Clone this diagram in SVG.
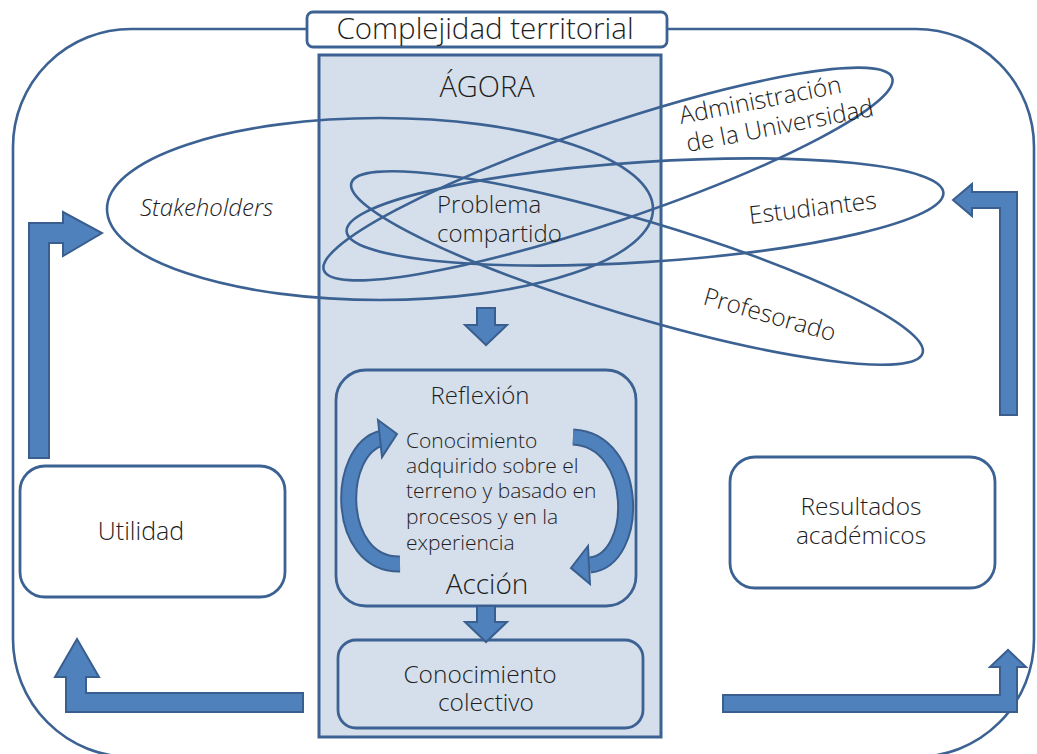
<svg xmlns="http://www.w3.org/2000/svg" width="1037" height="754" viewBox="0 0 1037 754">
<defs>
<style>
.ln{fill:none;stroke:#3c6293;stroke-width:2.6}
.box{fill:#ffffff;stroke:#3c6293;stroke-width:2.8}
.agora{fill:#d5dfeb;stroke:#3c6293;stroke-width:3}
.inner{fill:#d5dfeb;stroke:#3c6293;stroke-width:2.8}
.barr{fill:#4f81bd;stroke:#3a5f8e;stroke-width:2}
.t{font-family:"Open Sans","Liberation Sans",sans-serif;font-weight:300;fill:#1e1e1e}
.c{text-anchor:middle}
</style>
</defs>
<rect width="1037" height="754" fill="#ffffff"/>
<g id="frame">
<rect class="ln" x="13" y="29" width="1021" height="728" rx="118" ry="118"/>
</g>
<g id="title">
<rect class="box" x="307" y="12" width="360" height="35" rx="6"/>
<text class="t c" x="485" y="39" font-size="29.5">Complejidad territorial</text>
</g>
<g id="agora">
<rect class="agora" x="319" y="55" width="342" height="682"/>
<text class="t c" x="487" y="97" font-size="29">ÁGORA</text>
</g>
<g id="reflexion">
<rect class="inner" x="336" y="370" width="300" height="236" rx="30"/>
<text class="t c" x="480" y="404" font-size="24">Reflexión</text>
<text class="t" x="406" font-size="21"><tspan x="406" y="448">Conocimiento</tspan><tspan x="406" y="473">adquirido sobre el</tspan><tspan x="406" y="498">terreno y basado en</tspan><tspan x="406" y="524">procesos y en la</tspan><tspan x="406" y="550">experiencia</tspan></text>
<text class="t c" x="487" y="594" font-size="28">Acción</text>
</g>
<g id="colectivo">
<rect class="inner" x="338" y="640" width="305" height="88" rx="18"/>
<text class="t c" x="480" y="683" font-size="24.5">Conocimiento</text>
<text class="t c" x="486" y="711" font-size="24.5">colectivo</text>
</g>
<g id="utilidad">
<rect class="box" x="20" y="466" width="265" height="131" rx="25"/>
<text class="t c" x="141" y="540" font-size="25">Utilidad</text>
</g>
<g id="resultados">
<rect class="box" x="730" y="457" width="265" height="131" rx="25"/>
<text class="t c" x="861" y="515" font-size="24.5">Resultados</text>
<text class="t c" x="861" y="544" font-size="24.5">académicos</text>
</g>
<g id="stakeholders">
<ellipse class="ln" cx="380" cy="209" rx="273" ry="91"/>
<text class="t" x="140" y="216" font-size="24" font-style="italic">Stakeholders</text>
</g>
<g id="administracion">
<ellipse class="ln" cx="608" cy="174" rx="300" ry="48" transform="rotate(-18.7 608 174)"/>
<text class="t" font-size="24.5" transform="translate(681 124) rotate(-11)">Administración</text>
<text class="t" font-size="24.5" transform="translate(688 152) rotate(-11)">de la Universidad</text>
</g>
<g id="estudiantes">
<ellipse class="ln" cx="645" cy="212" rx="299" ry="50" transform="rotate(-3.7 645 212)"/>
<text class="t" font-size="24.5" transform="translate(750 224) rotate(-7)">Estudiantes</text>
</g>
<g id="profesorado">
<ellipse class="ln" cx="637" cy="268" rx="298" ry="48" transform="rotate(16.6 637 268)"/>
<text class="t" font-size="24.5" transform="translate(702 304) rotate(16)">Profesorado</text>
</g>
<g id="problema">
<text class="t" x="437" y="213" font-size="24">Problema</text>
<text class="t" x="437" y="242" font-size="24">compartido</text>
</g>
<g id="connectors">
<polygon class="barr" points="477,308 495,308 495,325 507,325 486,345 465,325 477,325"/>
<polygon class="barr" points="477,606 495,606 495,622 507,622 486,642 465,622 477,622"/>
<path d="M400,564 C335,565 335,450 382,438" fill="none" stroke="#3a5f8e" stroke-width="17"/>
<path d="M400,564 C335,565 335,450 382,438" fill="none" stroke="#4f81bd" stroke-width="13"/>
<polygon class="barr" points="378,420 397,434 382,457"/>
<path d="M573,437 C640,440 640,560 590,565" fill="none" stroke="#3a5f8e" stroke-width="17"/>
<path d="M573,437 C640,440 640,560 590,565" fill="none" stroke="#4f81bd" stroke-width="13"/>
<polygon class="barr" points="588,546 571,568 590,584"/>
<polygon class="barr" points="29,458 29,223 63,223 63,212 102,233 63,256 63,243 49,243 49,458"/>
<polygon class="barr" points="1017,415 1017,192 972,192 972,184 953,200 972,216 972,208 1000,208 1000,415"/>
<polygon class="barr" points="303,693 303,712 66,712 66,677 55,677 77,639 99,677 86,677 86,693"/>
<polygon class="barr" points="723,695 1000,695 1000,667 990,667 1008,650 1026,667 1017,667 1017,712 723,712"/>
</g>
</svg>
